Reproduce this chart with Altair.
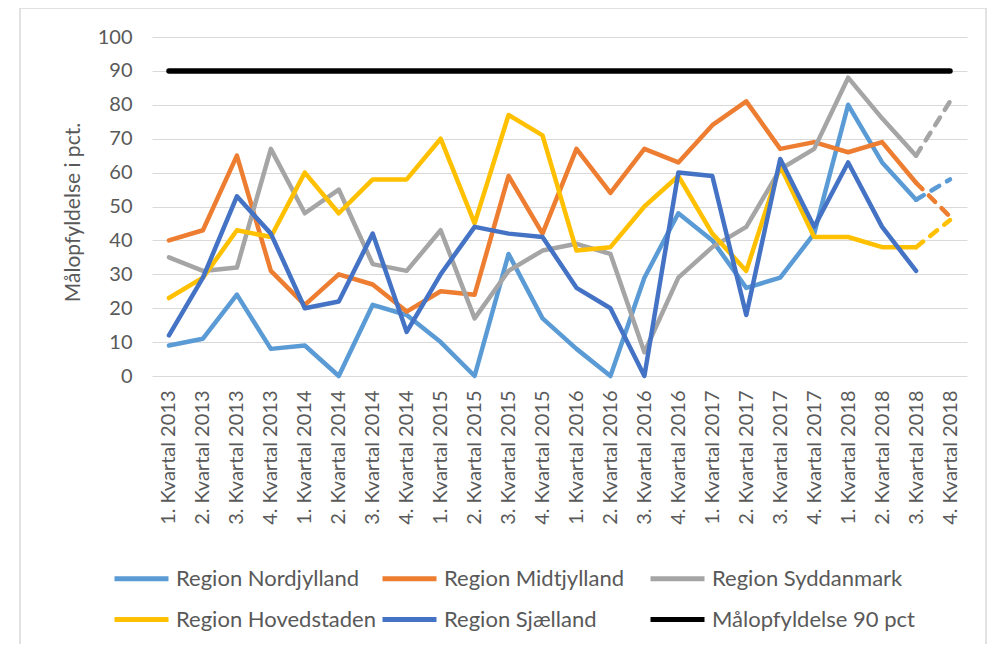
import altair as alt
import pandas as pd

quarters = [
    "1. Kvartal 2013", "2. Kvartal 2013", "3. Kvartal 2013", "4. Kvartal 2013",
    "1. Kvartal 2014", "2. Kvartal 2014", "3. Kvartal 2014", "4. Kvartal 2014",
    "1. Kvartal 2015", "2. Kvartal 2015", "3. Kvartal 2015", "4. Kvartal 2015",
    "1. Kvartal 2016", "2. Kvartal 2016", "3. Kvartal 2016", "4. Kvartal 2016",
    "1. Kvartal 2017", "2. Kvartal 2017", "3. Kvartal 2017", "4. Kvartal 2017",
    "1. Kvartal 2018", "2. Kvartal 2018", "3. Kvartal 2018", "4. Kvartal 2018",
]

nordjylland = [9, 11, 24, 8, 9, 0, 21, 18, 10, 0, 36, 17, 8, 0, 29, 48, 40, 26, 29, 42, 80, 63, 52, 58]
midtjylland = [40, 43, 65, 31, 21, 30, 27, 19, 25, 24, 59, 42, 67, 54, 67, 63, 74, 81, 67, 69, 66, 69, 57, 47]
syddanmark = [35, 31, 32, 67, 48, 55, 33, 31, 43, 17, 31, 37, 39, 36, 7, 29, 38, 44, 61, 67, 88, 76, 65, 81]
hovedstaden = [23, 29, 43, 41, 60, 48, 58, 58, 70, 45, 77, 71, 37, 38, 50, 59, 42, 31, 62, 41, 41, 38, 38, 46]
sjaelland = [12, 29, 53, 42, 20, 22, 42, 13, 30, 44, 42, 41, 26, 20, 0, 60, 59, 18, 64, 44, 63, 44, 31, None]
maal = [90, 90, 90, 90, 90, 90, 90, 90, 90, 90, 90, 90, 90, 90, 90, 90, 90, 90, 90, 90, 90, 90, 90, 90]

series_names = [
    "Region Nordjylland", "Region Midtjylland", "Region Syddanmark",
    "Region Hovedstaden", "Region Sjælland", "Målopfyldelse 90 pct",
]
series_values = [nordjylland, midtjylland, syddanmark, hovedstaden, sjaelland, maal]
series_colors = ["#5B9BD5", "#ED7D31", "#A5A5A5", "#FFC000", "#4472C4", "#000000"]
dashed_last = ["Region Nordjylland", "Region Midtjylland", "Region Syddanmark", "Region Hovedstaden"]

rows = []
for name, vals in zip(series_names, series_values):
    for i, (q, v) in enumerate(zip(quarters, vals)):
        if v is None:
            continue
        rows.append({"q": q, "idx": i, "region": name, "value": v})
df = pd.DataFrame(rows)

last = len(quarters) - 1
solid_df = df[~((df["region"].isin(dashed_last)) & (df["idx"] == last))]
dash_df = df[(df["region"].isin(dashed_last)) & (df["idx"] >= last - 1)]

TXT = "#595959"
FONT = "Lato"

x_enc = alt.X("q:N", sort=quarters,
              scale=alt.Scale(domain=quarters, padding=0.5),
              axis=alt.Axis(title=None, labelAngle=-90, labelFontSize=20, labelColor=TXT,
                            domain=False, ticks=False, labelPadding=14, grid=False))
y_enc = alt.Y("value:Q", scale=alt.Scale(domain=[0, 100], nice=False),
              axis=alt.Axis(values=list(range(0, 101, 10)), title="Målopfyldelse i pct.",
                            titleFontSize=21, titleFontWeight="normal", titleColor=TXT, titleY=175,
                            labelFontSize=20, labelColor=TXT, labelPadding=20, titlePadding=14,
                            domain=False, ticks=False, grid=True, gridColor="#D9D9D9", gridWidth=1.2))
color_enc = alt.Color("region:N",
                      scale=alt.Scale(domain=series_names, range=series_colors),
                      legend=alt.Legend(title=None, orient="none", legendX=-40, legendY=512,
                                        columns=3, direction="horizontal", gridAlign="all",
                                        symbolType="stroke", symbolSize=2916, symbolStrokeWidth=5,
                                        labelFontSize=22, labelColor=TXT, labelOffset=5, labelLimit=400,
                                        rowPadding=-10, columnPadding=-7, symbolDash=[1, 0]))

border = alt.Chart(pd.DataFrame({"a": [0]})).mark_rect(
    fill=None, stroke="#D9D9D9", strokeWidth=1.5
).encode(x=alt.value(-132), x2=alt.value(834), y=alt.value(-29), y2=alt.value(625))

layers = [border]
for name in series_names:
    sw = 5.5 if name.startswith("Mål") else 4.5
    layers.append(
        alt.Chart(solid_df).transform_filter(alt.datum.region == name)
        .mark_line(strokeWidth=sw, strokeCap="round", strokeJoin="round")
        .encode(x=x_enc, y=y_enc, color=color_enc)
    )
layers.append(
    alt.Chart(dash_df).mark_line(strokeWidth=4.5, strokeCap="round", strokeDash=[9, 9])
    .encode(x=x_enc, y=y_enc, color=color_enc)
)

chart = alt.layer(*layers).properties(
    width=815, height=339,
    autosize=alt.AutoSizeParams(type="none"),
    padding={"left": 144, "top": 29, "right": 20, "bottom": 268},
).configure(font=FONT).configure_view(stroke=None)

chart.save("out.html", embed_options={"renderer": "svg", "actions": False})
